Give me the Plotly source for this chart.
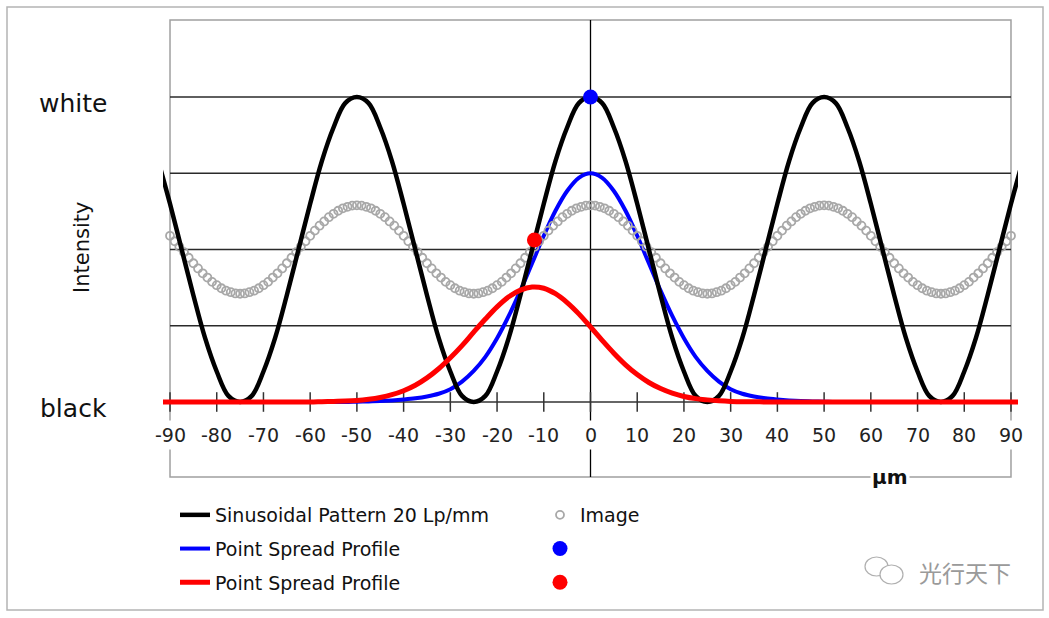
import plotly.graph_objects as go

# ---------------- data ----------------
# sample positions (µm) for the continuous curves
x_curve = [2.5 * k for k in range(-37, 38)]

# Sinusoidal pattern, 20 lp/mm (0 = black, 1 = white)
sine_pattern = [
    .79, .65, .50, .35, .21, .10, .02, 0, .02, .10, .21, .35, .50, .65, .79, .90, .98,
    1, .98, .90, .79, .65, .50, .35, .21, .10, .02, 0, .02, .10, .21, .35, .50, .65, .79, .90, .98,
    1, .98, .90, .79, .65, .50, .35, .21, .10, .02, 0, .02, .10, .21, .35, .50, .65, .79, .90, .98,
    1, .98, .90, .79, .65, .50, .35, .21, .10, .02, 0, .02, .10, .21, .35, .50, .65, .79,
]

# Point spread profile centred at 0 (blue)
psf_blue = [
    0, 0, 0, 0, 0, 0, 0, 0, 0, 0, 0, 0, 0, 0, 0, 0, 0,
    .001, .002, .003, .005, .008, .012, .018, .027, .042, .067, .102, .148, .209, .282, .365, .455, .545, .627, .692, .735,
    .75,
    .735, .692, .627, .545, .455, .365, .282, .209, .148, .102, .067, .042, .027, .018, .012, .008, .005, .003, .002, .001,
    0, 0, 0, 0, 0, 0, 0, 0, 0, 0, 0, 0, 0, 0, 0, 0, 0,
]

# Point spread profile centred at -12 µm (red)
psf_red = [
    0, 0, 0, 0, 0, 0, 0, 0, 0, 0, 0, 0, 0, 0,
    .001, .002, .003, .005, .009, .015, .024, .037, .055, .079, .109, .145, .185, .229, .272, .312, .345, .367,
    .377, .373, .355, .326, .289, .246, .202, .160, .122, .090, .064, .044, .029, .018, .011, .007, .004, .002, .001, .001,
    0, 0, 0, 0, 0, 0, 0, 0, 0, 0, 0, 0, 0, 0, 0, 0, 0, 0, 0, 0, 0, 0, 0,
]

# Image (sampled every 1 µm, -90 .. 90)
x_image = list(range(-90, 91))
image_values = [
    .545, .527, .509, .491, .473, .455, .438, .422, .408, .394, .383, .373, .365, .360, .356, .355,
    .356, .360, .365, .373, .383, .394, .408, .422, .438, .455, .473, .491, .509, .527, .545, .562,
    .578, .592, .606, .617, .627, .635, .640, .644,
    .645, .644, .640, .635, .627, .617, .606, .592, .578, .562, .545, .527, .509, .491, .473, .455,
    .438, .422, .408, .394, .383, .373, .365, .360, .356, .355, .356, .360, .365, .373, .383, .394,
    .408, .422, .438, .455, .473, .491, .509, .527, .545, .562, .578, .592, .606, .617, .627, .635,
    .640, .644,
    .645, .644, .640, .635, .627, .617, .606, .592, .578, .562, .545, .527, .509, .491, .473, .455,
    .438, .422, .408, .394, .383, .373, .365, .360, .356, .355, .356, .360, .365, .373, .383, .394,
    .408, .422, .438, .455, .473, .491, .509, .527, .545, .562, .578, .592, .606, .617, .627, .635,
    .640, .644,
    .645, .644, .640, .635, .627, .617, .606, .592, .578, .562, .545, .527, .509, .491, .473, .455,
    .438, .422, .408, .394, .383, .373, .365, .360, .356, .355, .356, .360, .365, .373, .383, .394,
    .408, .422, .438, .455, .473, .491, .509, .527, .545,
]

# sampled points
blue_point_x, blue_point_y = [0], [1.0]
red_point_x, red_point_y = [-12], [0.531]

x_ticks = [-90, -80, -70, -60, -50, -40, -30, -20, -10, 0, 10, 20, 30, 40, 50, 60, 70, 80, 90]
grid_levels = [0.25, 0.5, 0.75, 1.0]
level_labels = {"white": 1.0, "black": 0.0}

# ---------------- layout helpers ----------------
W, H = 1049, 618
L, R, T, B = 163, 31, 20, 141
PW, PH = W - L - R, H - T - B
X_RANGE = [-91.5, 91.5]
Y_RANGE = [-0.2459, 1.2525]


def px_x(p):
    return (p - L) / PW


def px_y(p):
    return (H - B - p) / PH


FONT = "DejaVu Sans"

fig = go.Figure()

# tick marks on the x axis (crossing the axis line)
fig.add_trace(go.Scatter(
    x=x_ticks, y=[0] * len(x_ticks), mode="markers",
    marker=dict(symbol="line-ns", size=14, line=dict(color="#333333", width=1.5)),
    showlegend=False, hoverinfo="skip"))

fig.add_trace(go.Scatter(
    x=x_curve, y=psf_blue, mode="lines", name="Point Spread Profile",
    line=dict(color="#0000ff", width=4, shape="spline"), legendrank=3, legendgroup="g3"))

fig.add_trace(go.Scatter(
    x=x_image, y=image_values, mode="markers", name="Image",
    marker=dict(symbol="circle-open", size=8, color="#a8a8a8", line=dict(width=1.8)),
    legendrank=2, legendgroup="g2"))

fig.add_trace(go.Scatter(
    x=x_curve, y=sine_pattern, mode="lines", name="Sinusoidal Pattern 20 Lp/mm",
    line=dict(color="#000000", width=4.5, shape="spline"), legendrank=1, legendgroup="g1"))

fig.add_trace(go.Scatter(
    x=x_curve, y=psf_red, mode="lines", name="Point Spread Profile",
    line=dict(color="#ff0000", width=5, shape="spline"), legendrank=5, legendgroup="g5"))

fig.add_trace(go.Scatter(
    x=blue_point_x, y=blue_point_y, mode="markers", name=" ",
    marker=dict(color="#0000ff", size=15), legendrank=4, legendgroup="g4"))

fig.add_trace(go.Scatter(
    x=red_point_x, y=red_point_y, mode="markers", name="  ",
    marker=dict(color="#ff0000", size=15), legendrank=6, legendgroup="g6"))

shapes = []
# outer border
shapes.append(dict(type="rect", xref="paper", yref="paper",
                   x0=px_x(7), x1=px_x(1043), y0=px_y(610), y1=px_y(7),
                   line=dict(color="#b4b4b4", width=1.5), layer="below"))
# horizontal grid lines
for g in grid_levels:
    shapes.append(dict(type="line", xref="x", yref="y", x0=x_ticks[0], x1=x_ticks[-1], y0=g, y1=g,
                       line=dict(color="#2a2a2a", width=1.3), layer="below"))
# x axis line at y = 0
shapes.append(dict(type="line", xref="x", yref="y", x0=x_ticks[0], x1=x_ticks[-1], y0=0, y1=0,
                   line=dict(color="#333333", width=1.3), layer="below"))
# plot frame
shapes.append(dict(type="rect", xref="x", yref="paper", x0=x_ticks[0], x1=x_ticks[-1], y0=0, y1=1,
                   line=dict(color="#a0a0a0", width=1.5), layer="below"))
# vertical axis at x = 0
shapes.append(dict(type="line", xref="x", yref="paper", x0=0, x1=0, y0=0, y1=1,
                   line=dict(color="#000000", width=1.3), layer="below"))
# watermark icon (two speech bubbles)
shapes.append(dict(type="circle", xref="paper", yref="paper",
                   x0=px_x(865), x1=px_x(888), y0=px_y(576), y1=px_y(557),
                   line=dict(color="#b0b0b0", width=1.2), fillcolor="white", layer="above"))
shapes.append(dict(type="circle", xref="paper", yref="paper",
                   x0=px_x(880), x1=px_x(903), y0=px_y(584), y1=px_y(565),
                   line=dict(color="#b0b0b0", width=1.2), fillcolor="white", layer="above"))

annotations = []
for t in x_ticks:
    annotations.append(dict(x=t, y=px_y(435), xref="x", yref="paper", text=str(t),
                            showarrow=False, xanchor="center", yanchor="middle",
                            font=dict(family=FONT, size=19, color="#222222"),
                            bgcolor="white", borderpad=3))
annotations.append(dict(x=px_x(890), y=px_y(477), xref="paper", yref="paper", text="<b>µm</b>",
                        showarrow=False, xanchor="center", yanchor="middle",
                        font=dict(family=FONT, size=20, color="#111111"), bgcolor="white"))
for txt, lv in level_labels.items():
    annotations.append(dict(x=px_x(73), y=lv, xref="paper", yref="y", text=txt,
                            showarrow=False, xanchor="center", yanchor="middle", yshift=-6,
                            font=dict(family=FONT, size=25, color="#111111")))
annotations.append(dict(x=px_x(82), y=px_y(248), xref="paper", yref="paper", text="Intensity",
                        textangle=-90, showarrow=False, xanchor="center", yanchor="middle",
                        font=dict(family=FONT, size=21, color="#111111")))
annotations.append(dict(x=px_x(965), y=px_y(572), xref="paper", yref="paper", text="光行天下",
                        showarrow=False, xanchor="center", yanchor="middle",
                        font=dict(family="Noto Sans CJK SC", size=23, color="#9a9a9a")))

fig.update_layout(
    width=W, height=H,
    margin=dict(l=L, r=R, t=T, b=B),
    paper_bgcolor="white", plot_bgcolor="white",
    hovermode=False,
    xaxis=dict(range=X_RANGE, visible=False),
    yaxis=dict(range=Y_RANGE, visible=False),
    shapes=shapes, annotations=annotations,
    showlegend=True,
    legend=dict(orientation="h", x=px_x(175), y=px_y(496), xanchor="left", yanchor="top",
                entrywidth=320, entrywidthmode="pixels", traceorder="grouped",
                tracegroupgap=6,
                font=dict(family=FONT, size=19, color="#111111"),
                bgcolor="rgba(0,0,0,0)", itemclick=False, groupclick="toggleitem"),
)

fig.write_html("out.html", config={"displayModeBar": False},
               post_script="document.body.style.margin='0px';")
